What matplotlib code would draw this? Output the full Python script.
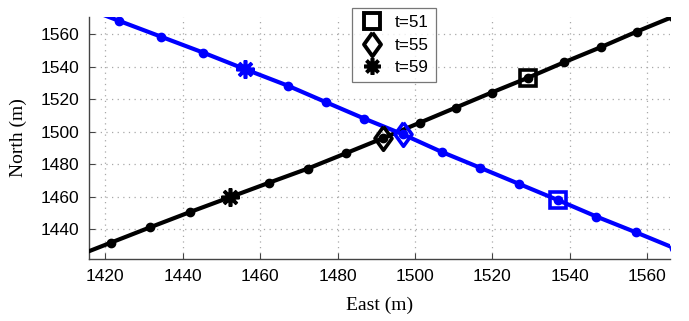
import numpy as np
import matplotlib
matplotlib.use("Agg")
import matplotlib.pyplot as plt
from matplotlib.lines import Line2D

# time stamps of the trajectory samples
t_vals = [47, 48, 49, 50, 51, 52, 53, 54, 55, 56, 57, 58, 59, 60, 61, 62, 63]

# black vehicle (moving south-west)
black_east = [1566.8, 1557.3, 1548.0, 1538.6, 1529.3, 1519.8, 1510.5, 1501.3, 1491.7,
              1482.2, 1472.3, 1462.4, 1452.2, 1441.9, 1431.6, 1421.5, 1411.3]
black_north = [1570.9, 1561.6, 1552.0, 1542.8, 1533.3, 1524.1, 1514.8, 1505.6, 1496.0,
               1486.8, 1477.3, 1468.7, 1459.7, 1450.6, 1441.2, 1431.8, 1422.3]

# blue vehicle (moving north-west)
blue_east = [1577.0, 1567.0, 1557.0, 1546.9, 1536.9, 1526.9, 1516.8, 1506.9, 1496.8,
             1486.9, 1477.0, 1467.1, 1456.0, 1445.3, 1434.4, 1423.6, 1412.8]
blue_north = [1418.6, 1428.4, 1438.2, 1447.8, 1458.0, 1467.9, 1477.9, 1487.6, 1498.5,
              1508.1, 1518.2, 1528.4, 1538.6, 1548.7, 1558.5, 1568.2, 1578.0]

marked_times = [51, 55, 59]
legend_labels = ["t=51", "t=55", "t=59"]

x_ticks = [1420, 1440, 1460, 1480, 1500, 1520, 1540, 1560]
y_ticks = [1440, 1460, 1480, 1500, 1520, 1540, 1560]

diamond = [(0, 1), (0.72, 0), (0, -1), (-0.72, 0), (0, 1)]
asterisk = (8, 2, 0)
marker_styles = {51: dict(marker="s", ms=11),
                 55: dict(marker=diamond, ms=17),
                 59: dict(marker=asterisk, ms=13)}

fig = plt.figure(figsize=(6.89, 3.21), dpi=100)
ax = fig.add_axes([89/689, 1-259/321, (670-89)/689, (259-17)/321])

for east, north, col in [(black_east, black_north, "black"), (blue_east, blue_north, (0, 0, 1))]:
    ax.plot(east, north, color=col, lw=3.0, marker="o", ms=6, zorder=3)
    for tm in marked_times:
        i = t_vals.index(tm)
        st = marker_styles[tm]
        if tm == 59:
            ax.plot([east[i]], [north[i]], linestyle="none", marker=st["marker"],
                    ms=st["ms"], mec=col, mfc=col, mew=2.6, zorder=4)
        else:
            ax.plot([east[i]], [north[i]], linestyle="none", marker=st["marker"],
                    ms=st["ms"], mec=col, mfc="none", mew=2.6, zorder=4)

ax.set_xlim(1415.8, 1565.9)
ax.set_ylim(1421.7, 1570.6)
ax.set_xticks(x_ticks)
ax.set_yticks(y_ticks)
ax.grid(True, color="#a8a8a8", linestyle=(0, (1, 3.5)), lw=0.9)
ax.set_axisbelow(True)
for s in ["top", "right"]:
    ax.spines[s].set_visible(False)
for s in ["left", "bottom"]:
    ax.spines[s].set_color("#444444")
    ax.spines[s].set_linewidth(1.0)
ax.tick_params(direction="in", length=4, color="#444444", labelsize=12.5, pad=7)
for lab in ax.get_xticklabels() + ax.get_yticklabels():
    lab.set_fontfamily("Liberation Sans")
ax.set_xlabel("East (m)", fontfamily="Liberation Serif", fontsize=14, labelpad=9)
ax.set_ylabel("North (m)", fontfamily="Liberation Serif", fontsize=14, labelpad=10)

handles = []
for tm, lab in zip(marked_times, legend_labels):
    st = marker_styles[tm]
    if tm == 59:
        h = Line2D([], [], linestyle="none", marker=st["marker"], ms=12, mec="black",
                   mfc="black", mew=2.6)
    else:
        h = Line2D([], [], linestyle="none", marker=st["marker"], ms=st["ms"],
                   mec="black", mfc="none", mew=2.8)
    handles.append(h)
leg = fig.legend(handles, legend_labels, loc="upper left",
                 bbox_to_anchor=(351.7/689, 1-8.3/321),
                 prop={"family": "Liberation Sans", "size": 12.3},
                 frameon=True, fancybox=False, edgecolor="#555555",
                 handletextpad=0.6, borderpad=0.42, labelspacing=0.42,
                 handlelength=1.5, borderaxespad=0)
leg.get_frame().set_linewidth(0.9)

fig.savefig("out.png", dpi=100)
